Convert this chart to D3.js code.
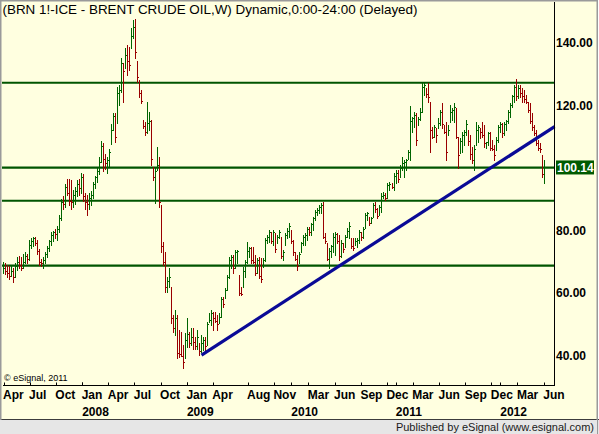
<!DOCTYPE html>
<html>
<head>
<meta charset="utf-8">
<script src="https://cdn.jsdelivr.net/npm/d3@7"></script>
<style>
  body { margin: 0; background: #fff; }
  text { font-family: "Liberation Sans", Arial, sans-serif; }
</style>
</head>
<body>
<script>
// weekly Brent bars, Mar 2007 - Jun 2012 (one value per Friday)
var high = [
  70, 69.5, 69, 68.5, 69, 68, 69.5, 71.5, 72, 71.5,
  72.5, 73, 72.5, 77, 77.5, 78, 78, 77, 74, 71,
  71.5, 73, 75, 77, 79.5, 80, 80.5, 81.5, 85, 90,
  91, 95, 96.5, 96.5, 96, 93, 94, 96, 96.5, 98.5,
  98, 92, 91.5, 92, 92.5, 95.5, 97.5, 100, 103.5, 108.5,
  108, 104.5, 103.5, 106, 114, 117.4, 117.4, 126, 126.5, 135,
  133.4, 138.2, 139.3, 138.7, 144.6, 147.3, 147.5, 134, 128, 124.9,
  115.3, 114.8, 121, 118, 115.3, 100.4, 100.4, 106.8, 103.6, 88.1,
  76.4, 73.2, 65.3, 67.9, 62.1, 53, 54.6, 53, 48.2, 47.7,
  43.4, 47.1, 51.9, 47.7, 48.7, 48.7, 46.1, 48.2, 44, 46.6,
  46.1, 46.1, 50.9, 53.5, 54.6, 54, 54, 53, 53.5,
  58.9, 58.9, 61.5, 65.8, 71.6, 72.2, 72.2, 73.8, 73.8, 65.8, 62,
  68.4, 70.6, 76.4, 74.8, 74.8, 74.8, 72.2, 71.1, 71.6, 71.1,
  71.1, 77.5, 78.6, 80.2, 79.6, 80.2, 79.1, 78.6, 80.2, 78,
  73.8, 79.1, 80.7, 82.3, 80.2, 77, 73.2, 72.2, 73.2, 76.4,
  78.6, 79.1, 81.2, 81.2, 82.3, 84.4, 86.5, 87.1, 88.1, 88.7,
  89.2, 79.1, 75.9, 74.3, 75.4,
  79.1, 79.6, 79.1, 78.6, 77, 75.9, 78.6, 80.7, 82.8, 77.5,
  77.5, 77.5, 77.5, 80.2, 79.6, 81.2, 85.5, 86, 84.4, 84.4,
  88.7, 89.2, 87.1, 88.1, 91.9, 92.4, 91.9, 95.1, 95.6, 95.1,
  98.3, 99.3, 99.3, 100.9, 103.6, 102.5, 103, 105.7, 119.8, 116.4,
  118, 117.4, 116.4, 119, 127, 127, 125.4, 127, 121.2, 113.2,
  113.7, 112.6, 115.8, 118.5,
  120.6, 113.7, 114.8, 113.7, 120.1, 119, 120.6, 119, 110, 109.5,
  111.6, 112.1, 115.3, 112.1, 110.5, 106.8, 107.3, 114.8, 113.7, 112.6,
  114.8, 113.7, 108.4, 111.6, 111.6, 108.9, 107.3, 110, 113.7, 114.8,
  114.2, 114.8, 115.3, 118.5, 120.6, 123.3, 126.5, 128.3, 126.5, 126.5,
  125.4, 124.9, 123.3, 121.2, 120.6, 117.4, 113.7, 112.1, 108.9, 107.8,
  104.1, 102.5
];

var low = [
  66.5, 66, 65, 64.5, 65.5, 63.5, 65, 67.5, 68, 67.5,
  68, 69.5, 69.5, 70.5, 74.5, 75, 75.5, 72.5, 69, 68.5,
  68, 69.5, 71.5, 73.5, 75.5, 76.5, 77.5, 77, 79.5, 83.5,
  87, 87.5, 91.5, 88, 87, 87.5, 88.5, 91, 91.5, 92,
  89.5, 87, 85, 87, 88, 90.5, 93.5, 95.5, 98, 102,
  99, 99.5, 98.5, 100.5, 107.5, 112.1, 108.4, 114.2, 120.1, 124.4,
  121.2, 131.8, 129.7, 131.3, 138.2, 141.4, 135, 127.5, 122.8, 120.6,
  112.6, 110.5, 111, 112.1, 101, 96.1, 88.7, 99.3, 87.6, 73.2,
  69, 60.5, 60.5, 62.1, 50.3, 47.7, 46.6, 39.2, 39.7, 40.2,
  36, 39.2, 42.9, 42.9, 43.4, 42.3, 42.3, 42.3, 40.2, 41.3,
  41.8, 41.3, 43.4, 50.9, 49.8, 48.2, 50.9, 48.2, 50.3,
  52.5, 55.7, 58.3, 61, 64.7, 67.9, 66.3, 67.9, 69.5, 59.4, 59.4,
  62, 65.2, 69.5, 71.6, 69.5, 69.5, 65.8, 66.3, 64.7, 63.6,
  68.4, 70.1, 75.9, 76.4, 75.9, 75.4, 73.2, 75.9, 77.5, 71.1,
  70.6, 75.4, 77.5, 78, 75.9, 72.2, 70.6, 67.4, 69.5, 73.2,
  75.4, 75.4, 77, 78.6, 78.6, 80.2, 83.3, 84.9, 85.5, 85.5,
  77.5, 75.9, 70.6, 67.9, 71.6,
  73.2, 72.2, 75.9, 70.6, 71.6, 73.2, 74.8, 78, 77.5, 74.3,
  73.8, 75.4, 74.8, 75.9, 77, 77.5, 80.7, 83.4, 81.8, 82.3,
  84.4, 86, 83.9, 85, 86, 90.3, 89.7, 90.3, 92.9, 93.5,
  92.9, 95.1, 95.6, 97.2, 99.3, 97.2, 99.3, 103, 102.5, 111.6,
  113.2, 107.3, 113.7, 115.3, 118, 123.3, 122.8, 121.2, 105.2, 109.5,
  110, 108.4, 112.6, 113.7,
  112.6, 111, 102.5, 110.5, 114.8, 115.3, 114.8, 109.5, 99.9, 104.7,
  105.2, 107.3, 110.5, 107.3, 103, 101.5, 99.3, 107.3, 108.4, 109.5,
  110, 106.8, 106.3, 107.3, 105.7, 105.7, 102.5, 105.7, 108.4, 111.6,
  110, 110.5, 112.1, 114.2, 116.4, 119.6, 121.2, 121.7, 122.2, 122.8,
  121.2, 121.2, 120.6, 118, 114.2, 112.1, 110.5, 107.3, 105.7, 105.2,
  97.2, 95.1
];

var close = [
  68, 67, 66.5, 65.5, 67, 65, 68.5, 70, 69, 68,
  70, 72, 71, 75.5, 76.5, 77.5, 76, 73.5, 70, 69.5,
  70.5, 72.5, 74.5, 76.5, 78.5, 79.5, 79, 80.5, 84, 89,
  88.5, 94, 92, 89.5, 89, 91.5, 92.5, 95, 93.5, 97,
  91, 89, 88.5, 90.5, 91.5, 95, 97, 99, 102, 107,
  103, 101.5, 102.5, 105, 112, 116.5, 110, 124, 125, 133.5,
  131, 136, 134, 133, 142, 145, 137, 129, 124, 121.5,
  113.5, 111.5, 114.5, 115, 103, 97, 99, 101, 89, 75,
  70, 62, 64, 65, 52, 49, 52, 41, 40.5, 40,
  38, 45, 47, 44, 46, 44.5, 43, 46, 41.5, 44,
  45, 43, 50, 51.5, 53.5, 52, 51, 50, 52.5,
  58, 56.5, 61, 65, 70.5, 71.5, 68, 73, 73.5, 60, 59.8,
  67, 70, 73.5, 74.5, 70.5, 70, 66.5, 70.5, 65.5, 64.5,
  70.5, 77, 78, 79.5, 76.5, 79.5, 74, 78, 79.5, 72,
  73, 78.5, 80, 81.5, 76.5, 73, 71, 68.5, 72.5, 76,
  78, 78.5, 80.5, 79.5, 82, 84, 86, 86.5, 87.5, 88,
  78, 76.5, 71, 73.5, 75,
  78, 79, 76.5, 72, 76, 74, 78, 80, 81.5, 75,
  74.5, 76.5, 77, 79.5, 78, 80.5, 85, 85.5, 82.5, 84,
  88, 87, 84.5, 87.5, 91, 91.5, 90.5, 94.5, 95, 94,
  97.5, 98.5, 96.5, 100, 101.5, 102, 102.5, 105, 115, 116,
  117, 109, 115.5, 118, 126, 126.5, 123.5, 122.5, 112, 110,
  113, 110.5, 114.5, 118,
  114, 111.5, 105, 112, 118, 118.5, 119.5, 110, 104, 108.5,
  110.5, 111.5, 114, 108.5, 104.5, 102.5, 106, 112, 113, 111.5,
  110.5, 108, 108.2, 111, 106.5, 106, 104, 109, 113, 114,
  111, 114, 115, 118, 120, 123, 126, 123, 125.5, 124,
  123, 122, 121, 118.5, 115, 113, 111, 108, 106.5, 106,
  98, 100.14
];

var levels = [127.2, 100.1, 89.5, 68.75];
var trendStart = [new Date(2009, 1, 21), 40.2];
var trendEnd = [new Date(2012, 6, 9), 113.2];
var lastPrice = 100.14;

var yTicks = [40, 60, 80, 120, 140];
var monthDates = ["2007-04-01", "2007-07-01", "2007-10-01", "2008-01-01", "2008-04-01", "2008-07-01",
  "2008-10-01", "2009-01-01", "2009-04-01", "2009-08-01", "2009-11-01", "2010-03-01", "2010-06-01",
  "2010-09-01", "2010-12-01", "2011-03-01", "2011-06-01", "2011-09-01", "2011-12-01", "2012-03-01",
  "2012-06-01"];
var monthLabels = ["Apr", "Jul", "Oct", "Jan", "Apr", "Jul", "Oct", "Jan", "Apr", "Aug", "Nov", "Mar",
  "Jun", "Sep", "Dec", "Mar", "Jun", "Sep", "Dec", "Mar", "Jun"];
var years = ["2008", "2009", "2010", "2011", "2012"];

var width = 599;
var height = 434;
var plot = {left: 2, right: 554, top: 2, bottom: 385.5};

var parse = d3.timeParse("%Y-%m-%d");
var dates = d3.timeFriday.range(new Date(2007, 2, 30), new Date(2012, 5, 2));
var n = Math.min(dates.length, high.length, low.length, close.length);

var svg = d3.select("body")
  .append("svg")
  .attr("width", width)
  .attr("height", height)
  .style("display", "block");

var x = d3.scaleTime()
  .domain([new Date(2007, 3, 1), new Date(2012, 2, 1)])
  .range([3.5, 517.4]);

var y = d3.scaleLinear()
  .domain([40, 140])
  .range([355.7, 42.7]);

// frame and background
svg.append("rect")
  .attr("x", 0).attr("y", 0)
  .attr("width", 598).attr("height", 420)
  .attr("fill", "#ffffe0");

svg.append("rect")
  .attr("x", 0).attr("y", 420)
  .attr("width", 599).attr("height", 14)
  .attr("fill", "#e6e6e6");

svg.append("line")
  .attr("x1", 0).attr("x2", 599)
  .attr("y1", 419.5).attr("y2", 419.5)
  .attr("stroke", "#3c3c3c");

svg.append("path")
  .attr("d", "M0.75,420V0.75H597.25V420")
  .attr("fill", "none")
  .attr("stroke", "#9a9a9a")
  .attr("stroke-width", 1.5);

svg.append("text")
  .attr("x", 594)
  .attr("y", 430.5)
  .attr("text-anchor", "end")
  .style("font-size", "11px")
  .attr("fill", "#1a1a1a")
  .text("Published by eSignal (www.esignal.com)");

svg.append("line")
  .attr("x1", 597.5).attr("x2", 597.5)
  .attr("y1", 420).attr("y2", 434)
  .attr("stroke", "#9a9a9a");

// title
svg.append("text")
  .attr("x", 2.5)
  .attr("y", 14)
  .style("font-size", "13px")
  .attr("fill", "#000")
  .attr("textLength", 415)
  .attr("lengthAdjust", "spacingAndGlyphs")
  .text("(BRN 1!-ICE - BRENT CRUDE OIL,W) Dynamic,0:00-24:00 (Delayed)");

// support / resistance levels
svg.selectAll(".level")
  .data(levels)
  .enter().append("line")
  .attr("class", "level")
  .attr("x1", plot.left)
  .attr("x2", plot.right)
  .attr("y1", function(d) { return y(d); })
  .attr("y2", function(d) { return y(d); })
  .attr("stroke", "#005500")
  .attr("stroke-width", 2.2);

// weekly bars
var bars = svg.append("g").attr("shape-rendering", "crispEdges");

d3.range(n).forEach(function(i) {
  var up = i === 0 || close[i] >= close[i - 1];
  var col = up ? "#006400" : "#990000";
  var bx = Math.round(x(dates[i])) + 0.5;
  bars.append("line")
    .attr("x1", bx).attr("x2", bx)
    .attr("y1", Math.round(y(high[i])))
    .attr("y2", Math.round(y(low[i])) + 1)
    .attr("stroke", col)
    .attr("stroke-width", 1);
  bars.append("line")
    .attr("x1", bx - 0.5).attr("x2", bx + 1.5)
    .attr("y1", Math.round(y(close[i])) + 0.5)
    .attr("y2", Math.round(y(close[i])) + 0.5)
    .attr("stroke", col)
    .attr("stroke-width", 1);
});

// trend line
svg.append("line")
  .attr("x1", x(trendStart[0]))
  .attr("y1", y(trendStart[1]))
  .attr("x2", x(trendEnd[0]))
  .attr("y2", y(trendEnd[1]))
  .attr("stroke", "#0a0a96")
  .attr("stroke-width", 3.2)
  .attr("stroke-linecap", "butt");

// axes lines
svg.append("line")
  .attr("x1", plot.right + 0.5).attr("x2", plot.right + 0.5)
  .attr("y1", plot.top).attr("y2", plot.bottom + 0.5)
  .attr("stroke", "#000");

svg.append("line")
  .attr("x1", 3).attr("x2", plot.right + 1)
  .attr("y1", plot.bottom).attr("y2", plot.bottom)
  .attr("stroke", "#000");

var tickDates = monthDates.map(parse).concat(years.map(function(yr) { return new Date(+yr, 0, 1); }));

svg.selectAll(".tick")
  .data(tickDates)
  .enter().append("line")
  .attr("class", "tick")
  .attr("x1", function(d) { return Math.round(x(d)) + 0.5; })
  .attr("x2", function(d) { return Math.round(x(d)) + 0.5; })
  .attr("y1", plot.bottom - 3)
  .attr("y2", plot.bottom)
  .attr("stroke", "#000");

svg.selectAll(".month")
  .data(monthDates)
  .enter().append("text")
  .attr("class", "month")
  .attr("x", function(d) { return x(parse(d)) - 0.5; })
  .attr("y", 398.5)
  .style("font-size", "12px")
  .style("font-weight", "bold")
  .attr("fill", "#000")
  .text(function(d, i) { return monthLabels[i]; });

svg.selectAll(".year")
  .data(years)
  .enter().append("text")
  .attr("class", "year")
  .attr("x", function(d) { return x(new Date(+d, 0, 1)); })
  .attr("y", 416)
  .style("font-size", "12px")
  .style("font-weight", "bold")
  .attr("fill", "#000")
  .text(function(d) { return d; });

svg.selectAll(".ylab")
  .data(yTicks)
  .enter().append("text")
  .attr("class", "ylab")
  .attr("x", 556)
  .attr("y", function(d) { return y(d) + 4.3; })
  .style("font-size", "12px")
  .style("font-weight", "bold")
  .attr("fill", "#000")
  .text(function(d) { return d.toFixed(2); });

// last price marker
svg.append("rect")
  .attr("x", 556)
  .attr("y", y(lastPrice) - 7)
  .attr("width", 38)
  .attr("height", 14)
  .attr("fill", "#005a00");

svg.append("text")
  .attr("x", 557)
  .attr("y", y(lastPrice) + 4.3)
  .style("font-size", "12px")
  .style("font-weight", "bold")
  .attr("fill", "#fff")
  .text(lastPrice.toFixed(2));

svg.append("text")
  .attr("x", 4)
  .attr("y", 381)
  .style("font-size", "9px")
  .attr("fill", "#000")
  .text("\u00a9 eSignal, 2011");
</script>
</body>
</html>
